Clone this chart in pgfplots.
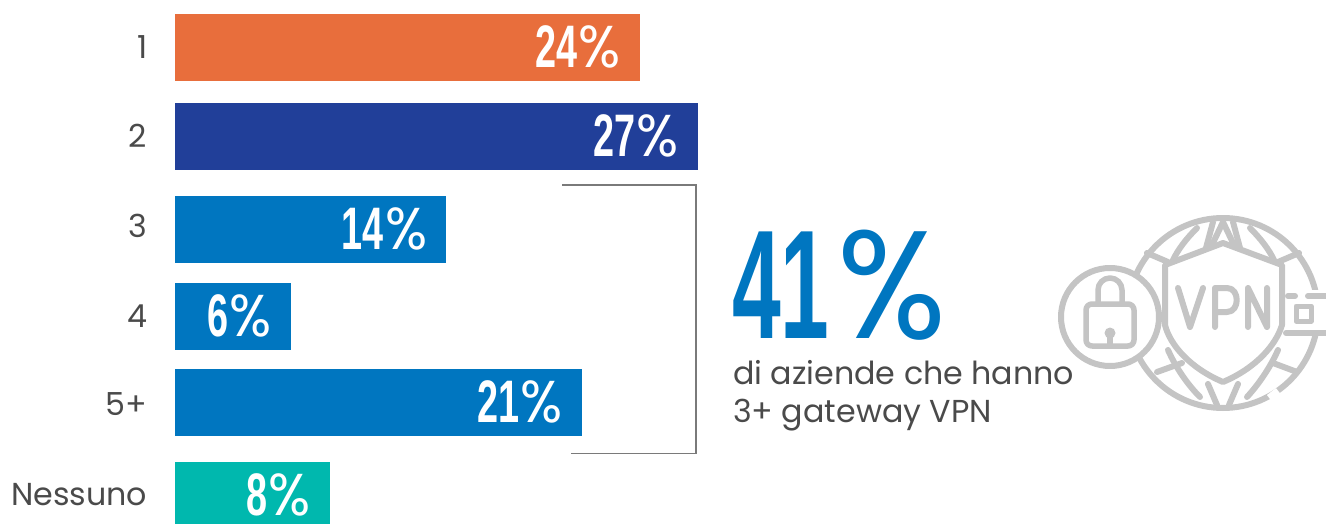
\documentclass[border=0pt]{standalone}
\usepackage{fontspec}
\usepackage{pgfplots}
\pgfplotsset{compat=1.18}
\setmainfont{Poppins}
\newfontfamily\digitfont[FakeStretch=0.63]{Liberation Sans Bold}
\newfontfamily\headfont[FakeStretch=0.565]{Liberation Sans Bold}
\newfontfamily\pctfont[FakeStretch=0.94]{Poppins}
\definecolor{barorange}{HTML}{E86E3C}
\definecolor{barnavy}{HTML}{213F99}
\definecolor{barblue}{HTML}{0076C0}
\definecolor{barteal}{HTML}{00B8AE}
\definecolor{textgrey}{HTML}{4A4A4A}
\definecolor{rulegrey}{HTML}{7A7A7A}
\definecolor{icongrey}{HTML}{C4C4C4}
\newcommand{\bodyfont}{\fontsize{31.7}{38}\selectfont}
\begin{document}
\begin{tikzpicture}
\useasboundingbox (-175pt,0pt) rectangle (1151pt,523pt);
\begin{axis}[
  at={(0pt,0pt)}, anchor=south west,
  scale only axis, width=1151pt, height=523pt,
  xmin=0, xmax=59.39, ymin=0, ymax=523, y dir=reverse,
  axis line style={draw=none}, tick style={draw=none},
  xtick=\empty,
  ytick={47,136,226,316,404,495},
  yticklabels={1,2,3,4,5+,Nessuno},
  yticklabel style={font=\bodyfont, text=textgrey, xshift=-20pt},
  xbar, bar width=67pt, bar shift=0pt,
  point meta=x,
  nodes near coords={{\digitfont\fontsize{60}{60}\selectfont\pgfmathprintnumber[assume math mode=true,fixed,precision=0]{\pgfplotspointmeta}}\kern1pt{\pctfont\fontsize{59}{59}\selectfont\%}},
  nodes near coords align={anchor=east},
  every node near coord/.style={text=white, inner sep=0pt, xshift=-19pt, yshift=1pt},
]
\addplot[draw=none, fill=barorange] coordinates {(24,47.5)};
\addplot[draw=none, fill=barnavy] coordinates {(27,136.5)};
\addplot[draw=none, fill=barblue] coordinates {(14,229.5)};
\addplot[draw=none, fill=barblue] coordinates {(6,316.5)};
\addplot[draw=none, fill=barblue] coordinates {(21,402.5)};
\addplot[draw=none, fill=barteal] coordinates {(8,495.5)};
\end{axis}
% Everything below is laid out in a top-left origin system, one unit per pt
\begin{scope}[shift={(-175pt,523pt)}, x=1pt, y=-1pt]
  % bracket around the 3+ group
  \draw[rulegrey, line width=1.6pt] (562,185) -- (696,185) -- (696,453.5) -- (571,453.5);
  % headline figure and caption
  \node[anchor=base west, inner sep=0pt, text=barblue] at (732,338)
    {{\headfont\fontsize{155}{155}\selectfont 41}\kern8pt{\pctfont\fontsize{153}{153}\selectfont\%}};
  \node[anchor=base west, inner sep=0pt, text=textgrey] at (733,384) {\bodyfont di aziende che hanno};
  \node[anchor=base west, inner sep=0pt, text=textgrey] at (733,422) {\bodyfont 3+ gateway VPN};
  % VPN globe icon
  \begin{scope}[draw=icongrey, line width=6pt, line cap=round, line join=round]
    \draw (1223,313) circle (95);
    % upper meridians
    \draw (1197,228) .. controls (1187,238) and (1178,249) .. (1172,262);
    \draw (1250,228) .. controls (1260,238) and (1269,249) .. (1275,262);
    \draw (1213,222) -- (1206,248);
    \draw (1233,222) -- (1240,248);
    \draw (1223,222) -- (1212,245);
    \draw (1223,222) -- (1234,245);
    % lower meridians
    \draw (1168,350) .. controls (1176,368) and (1188,385) .. (1200,397);
    \draw (1278,350) .. controls (1270,368) and (1258,385) .. (1247,397);
    \draw (1208,384) -- (1217,405);
    \draw (1238,384) -- (1229,405);
    % parallels
    \draw (1147,253) -- (1168,262);
    \draw (1299,253) -- (1278,262);
    \draw (1157,372) -- (1182,363);
    \draw (1297,372) -- (1273,363);
    % gap in the lower right of the rim
    \draw[white, line width=10pt, line cap=butt] (1270,399) -- (1279,392);
    % shield
    \draw[fill=white] (1223,243) -- (1165,265) -- (1165,325)
      .. controls (1170,345) and (1190,368) .. (1223,382)
      .. controls (1256,368) and (1276,345) .. (1282,325) -- (1282,265) -- cycle;
    % lettering
    \draw (1178,288) -- (1190,327) -- (1203,288);
    \draw (1215,327) -- (1215,288) -- (1227,288)
      .. controls (1240,288) and (1240,312) .. (1227,312) -- (1215,312);
    \draw (1248,327) -- (1248,288) -- (1267,327) -- (1267,288);
    % port on the right
    \fill[white] (1286,290) rectangle (1326,336);
    \draw (1288,296) -- (1295,296);
    \draw (1308,296) -- (1326,296);
    \draw (1286,333) -- (1326,333);
    \draw[line width=5pt] (1296,306) rectangle (1311,321);
    % padlock badge
    \draw[fill=white] (1110,317) circle (49);
    \draw[line width=5.5pt, rounded corners=6pt] (1086,304) rectangle (1134,346);
    \draw[line width=5.5pt] (1098,304) -- (1098,290) arc[start angle=180, end angle=360, radius=12] -- (1122,304);
    \fill[icongrey] (1110,333) circle (5.5);
    \fill[icongrey] (1107,335) rectangle (1113,346);
  \end{scope}
\end{scope}
\end{tikzpicture}
\end{document}
